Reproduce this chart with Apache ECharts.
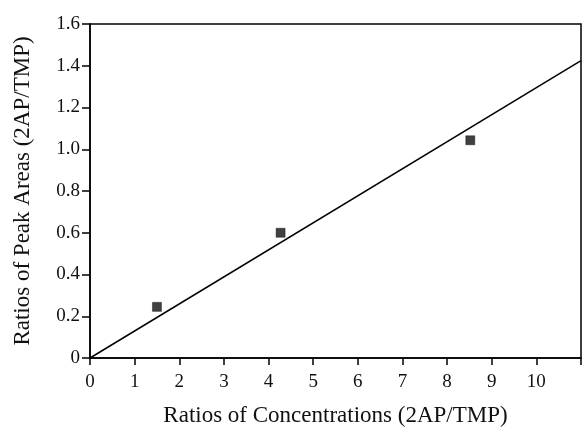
<!DOCTYPE html>
<html>
<head>
<meta charset="utf-8">
<script src="https://cdn.jsdelivr.net/npm/echarts@6/dist/echarts.min.js"></script>
<style>
  html, body { margin: 0; padding: 0; background: #fff; }
  #chart { width: 584px; height: 432px; }
</style>
</head>
<body>
<div id="chart"></div>
<script>
// measured points
var concRatio = [1.5, 4.27, 8.52];
var areaRatio = [0.245, 0.60, 1.043];
// fitted line end points
var fitX = [0, 11];
var fitY = [0, 1.425];
var xTicks = ['0', '1', '2', '3', '4', '5', '6', '7', '8', '9', '10'];

var font = 'Liberation Serif';

var chart = echarts.init(document.getElementById('chart'));

var option = {
  animation: false,
  backgroundColor: '#fff',
  grid: {
    left: 90,
    top: 24,
    right: 1,
    bottom: 69,
    show: true,
    borderColor: '#000',
    borderWidth: 1.5
  },
  xAxis: {
    type: 'value',
    min: 0,
    max: 11,
    interval: 1,
    name: 'Ratios of Concentrations (2AP/TMP)',
    nameLocation: 'middle',
    nameGap: 46,
    nameTextStyle: { fontFamily: font, fontSize: 23, color: '#111' },
    axisLine: { lineStyle: { color: '#000', width: 1.5 } },
    axisTick: { show: true, inside: false, length: 7, lineStyle: { color: '#000', width: 1.5 } },
    axisLabel: {
      margin: 15,
      fontFamily: font,
      fontSize: 19,
      color: '#111',
      formatter: function (v) {
        return xTicks.indexOf(String(v)) >= 0 ? String(v) : '';
      }
    },
    splitLine: { show: false }
  },
  yAxis: {
    type: 'value',
    min: 0,
    max: 1.6,
    interval: 0.2,
    name: 'Ratios of Peak Areas (2AP/TMP)',
    nameLocation: 'middle',
    nameGap: 56,
    nameTextStyle: { fontFamily: font, fontSize: 23, color: '#111' },
    axisLine: { show: true, lineStyle: { color: '#000', width: 1.5 } },
    axisTick: { show: true, inside: false, length: 8, lineStyle: { color: '#000', width: 1.5 } },
    axisLabel: {
      margin: 10,
      fontFamily: font,
      fontSize: 19,
      color: '#111',
      formatter: function (v) {
        return v === 0 ? '0' : v.toFixed(1);
      }
    },
    splitLine: { show: false }
  },
  series: [
    {
      name: 'fit',
      type: 'line',
      data: fitX.map(function (x, i) { return [x, fitY[i]]; }),
      symbol: 'none',
      lineStyle: { color: '#000', width: 1.5 },
      z: 2
    },
    {
      name: 'data',
      type: 'scatter',
      data: concRatio.map(function (x, i) { return [x, areaRatio[i]]; }),
      symbol: 'rect',
      symbolSize: 9,
      itemStyle: { color: '#111', borderColor: '#000', borderWidth: 0.5 },
      z: 3
    }
  ]
};

chart.setOption(option);
window.addEventListener('resize', function () {
  chart.resize();
});
</script>
</body>
</html>
